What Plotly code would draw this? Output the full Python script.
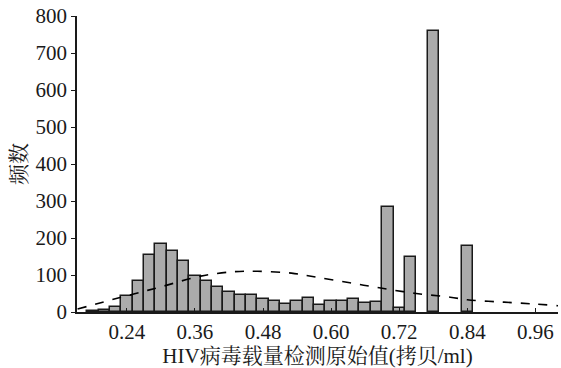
import plotly.graph_objects as go

# Histogram bins (centres, width 0.02) and frequencies
bin_centers = [0.18, 0.20, 0.22, 0.24, 0.26, 0.28, 0.30, 0.32, 0.34, 0.36,
               0.38, 0.40, 0.42, 0.44, 0.46, 0.48, 0.50, 0.52, 0.54, 0.56,
               0.58, 0.60, 0.62, 0.64, 0.66, 0.68, 0.70, 0.72, 0.74, 0.78, 0.84]
counts = [3, 6, 14, 42, 85, 153, 183, 164, 138, 97,
          85, 68, 53, 46, 46, 34, 29, 22, 31, 39,
          20, 29, 29, 34, 23, 27, 284, 10, 148, 759, 178]

# Dashed reference (normal) curve
curve_x = [0.153, 0.23, 0.30, 0.37, 0.43, 0.47, 0.53, 0.575, 0.633, 0.69,
           0.75, 0.81, 0.84, 0.90, 0.955, 1.0]
curve_y = [8, 40, 68, 97, 109, 110, 105, 94, 79, 64,
           50, 40, 33, 27, 22, 17]

x_ticks = [0.24, 0.36, 0.48, 0.60, 0.72, 0.84, 0.96]
x_ticktext = ["0.24", "0.36", "0.48", "0.60", "0.72", "0.84", "0.96"]
y_ticks = [0, 100, 200, 300, 400, 500, 600, 700, 800]

FONT = "Liberation Serif, Times New Roman, Noto Serif CJK SC, Noto Sans CJK SC, serif"

fig = go.Figure()
fig.add_trace(go.Bar(
    x=bin_centers, y=counts, width=0.02,
    marker=dict(color="#ababab", line=dict(color="#1a1a1a", width=1.5)),
    showlegend=False,
))
fig.add_trace(go.Scatter(
    x=curve_x, y=curve_y, mode="lines",
    line=dict(color="black", width=1.6, dash="dash", shape="spline"),
    showlegend=False,
))

fig.update_layout(
    width=561, height=368,
    margin=dict(l=77, r=3, t=16, b=56),
    paper_bgcolor="white", plot_bgcolor="white",
    font=dict(family=FONT, size=21, color="#1a1a1a"),
    bargap=0,
    xaxis=dict(
        range=[0.152, 1.0],
        tickvals=x_ticks, ticktext=x_ticktext,
        ticks="inside", ticklen=4, tickcolor="#1a1a1a",
        showline=True, linecolor="#1a1a1a", linewidth=1.5,
        showgrid=False, zeroline=False,
        title=dict(text="HIV病毒载量检测原始值(拷贝/ml)", standoff=6,
                   font=dict(size=21)),
        tickfont=dict(size=21),
    ),
    yaxis=dict(
        range=[0, 800],
        tickvals=y_ticks,
        ticks="outside", ticklen=4, tickcolor="#1a1a1a",
        showline=True, linecolor="#1a1a1a", linewidth=1.5,
        showgrid=False, zeroline=False,
        title=dict(text="频数", standoff=3, font=dict(size=21)),
        tickfont=dict(size=21),
    ),
)

fig.write_html("out.html")
